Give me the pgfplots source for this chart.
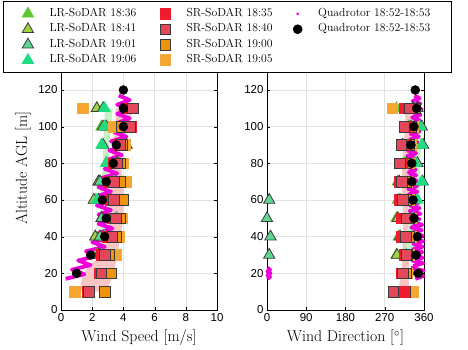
\documentclass[border=0pt]{standalone}
\usepackage{fontspec}
\usepackage{pgfplots}
\usepackage{pgfplotstable}
\pgfplotsset{compat=1.18}
\newfontfamily\tickfont{Liberation Sans}

\definecolor{lrA}{HTML}{5CC82E}
\definecolor{lrB}{HTML}{A3D13F}
\definecolor{lrC}{HTML}{5ED68F}
\definecolor{lrD}{HTML}{1FDC82}
\definecolor{srA}{HTML}{EE1C2E}
\definecolor{srB}{HTML}{E5475A}
\definecolor{srC}{HTML}{EE940C}
\definecolor{srD}{HTML}{F6A530}
\definecolor{edge}{HTML}{3A3A3A}
\definecolor{quad}{HTML}{F000D8}
\definecolor{bandR}{HTML}{F9C6C6}
\definecolor{bandG}{HTML}{C4F2C4}

\pgfplotsset{
  lr1/.style={only marks,mark=triangle*,mark size=6.5pt,mark options={fill=lrA,draw=lrA,line width=0.8pt}},
  lr2/.style={only marks,mark=triangle*,mark size=6.5pt,mark options={fill=lrB,draw=edge,line width=0.8pt}},
  lr3/.style={only marks,mark=triangle*,mark size=6.5pt,mark options={fill=lrC,draw=edge,line width=0.8pt}},
  lr4/.style={only marks,mark=triangle*,mark size=6.5pt,mark options={fill=lrD,draw=lrD,line width=0.8pt}},
  sr1/.style={only marks,mark=square*,mark size=5.3pt,mark options={fill=srA,draw=srA,line width=0.8pt}},
  sr2/.style={only marks,mark=square*,mark size=5.3pt,mark options={fill=srB,draw=edge,line width=0.8pt}},
  sr3/.style={only marks,mark=square*,mark size=5.3pt,mark options={fill=srC,draw=edge,line width=0.8pt}},
  sr4/.style={only marks,mark=square*,mark size=5.3pt,mark options={fill=srD,draw=srC!80,line width=0.8pt}},
  qdot/.style={only marks,mark=*,mark size=4.5pt,mark options={fill=black,draw=black}},
  qline/.style={quad,line width=3.8pt,line join=round,no marks},
  panel/.style={
    scale only axis,width=156pt,height=256.67pt,
    ymin=0,ymax=140,ytick={0,20,...,120},
    grid=major,grid style={gray!22,line width=0.5pt},
    axis line style={black,line width=0.8pt},
    tick align=inside,major tick length=3pt,tick style={black},
    ticklabel style={font=\fontsize{11.5}{13}\tickfont},
    /pgf/number format/assume math mode=true,
    label style={font=\fontsize{15.8}{18}\selectfont},
    xlabel style={at={(axis description cs:0.5,-0.109)},anchor=center},
    clip=false,axis background/.style={fill=white}},
}

% altitude, SR-SoDAR (18:35 18:40 19:00 19:05), LR-SoDAR (18:36 18:41 19:01 19:06), quadrotor mean
\pgfplotstableread{
alt sr1 sr2 sr3 sr4 lr1 lr2 lr3 lr4 q
10  1.7 1.8 2.8 0.9 nan nan nan nan nan
20  2.5 2.6 3.2 3.0 nan nan nan nan 1.0
30  2.6 2.8 3.1 3.5 2.3 2.4 2.5 2.6 1.9
40  3.0 3.3 3.5 3.7 2.2 2.2 2.5 2.8 2.8
50  3.3 3.5 3.8 3.9 3.5 2.6 2.6 3.6 2.9
60  3.2 3.4 4.0 4.0 2.2 2.1 2.4 2.3 2.65
70  3.1 3.4 3.8 4.2 2.5 2.4 2.5 3.4 2.9
80  3.4 3.6 3.8 4.0 3.7 3.6 2.9 2.9 3.35
90  3.7 3.8 3.9 4.1 4.2 4.2 2.7 2.6 3.55
100 4.5 4.4 3.9 3.4 2.6 2.7 2.9 2.8 4.0
110 4.4 4.6 4.2 1.4 2.3 2.3 2.7 2.8 4.0
120 nan nan nan nan nan nan nan nan 4.0
}\speed

\pgfplotstableread{
alt sr1 sr2 sr3 sr4 lr1 lr2 lr3 lr4 q
10  315 290 316 334 nan nan nan nan nan
20  310 312 318 322 nan nan nan nan 347
30  315 320 322 325 297 298 5   320 342
40  310 318 325 330 302 305 8   335 345
50  310 320 325 330 297 300 0   335 337
60  305 312 320 325 300 305 5   345 335
70  305 310 320 322 300 303 357 355 332
80  310 305 318 325 315 320 345 340 332
90  315 308 325 330 312 310 358 355 330
100 320 315 330 335 325 330 355 350 337
110 316 328 340 288 297 335 345 340 343
120 nan nan nan nan nan nan nan nan 340
}\direction

\begin{document}
\begin{tikzpicture}
\path[use as bounding box] (0,0) rectangle (468pt,350pt);

% ---------- wind speed ----------
\begin{axis}[panel,at={(61pt,40pt)},anchor=south west,
  xmin=0,xmax=10,xtick={0,2,...,10},
  xlabel={Wind Speed [m/s]},ylabel={Altitude AGL [m]},
  ylabel style={at={(axis description cs:-0.244,0.553)},anchor=center}]
\addplot[fill=bandR,draw=none,forget plot] coordinates {
 (1.2,10) (1.4,20) (2.5,30) (3.0,40) (3.1,50) (3.1,60) (3.2,70) (3.3,80) (3.3,90) (3.5,100) (3.5,110)
 (4.6,110) (4.4,100) (3.8,90) (3.8,80) (4.0,70) (4.0,60) (4.0,50) (3.8,40) (3.6,30) (3.4,20) (2.9,10)} -- cycle;
\addplot[fill=bandG,draw=none,forget plot] coordinates {
 (2.4,30) (2.5,40) (2.6,50) (2.5,60) (2.6,70) (2.7,80) (2.7,90) (2.8,100) (2.8,110)
 (3.3,110) (3.2,100) (3.1,90) (3.1,80) (3.0,70) (2.9,60) (3.0,50) (2.9,40) (2.7,30)} -- cycle;
\addplot[lr1,forget plot] table[x=lr1,y=alt]{\speed};
\addplot[lr2,forget plot] table[x=lr2,y=alt]{\speed};
\addplot[lr3,forget plot] table[x=lr3,y=alt]{\speed};
\addplot[lr4,forget plot] table[x=lr4,y=alt]{\speed};
\addplot[sr4,forget plot] table[x=sr4,y=alt]{\speed};
\addplot[sr3,forget plot] table[x=sr3,y=alt]{\speed};
\addplot[sr1,forget plot] table[x=sr1,y=alt]{\speed};
\addplot[sr2,forget plot] table[x=sr2,y=alt]{\speed};
\addplot[qline,forget plot] coordinates {
 (0.3,17) (1.5,19.5) (0.7,22) (1.9,24.5) (1.1,27) (2.3,29.5) (1.6,32) (2.8,34.5) (2.0,37) (3.2,39.5)
 (2.4,42) (3.3,44.5) (2.4,47) (3.3,49.5) (2.4,52) (3.2,54.5) (2.3,57) (3.1,59.5) (2.3,62) (3.2,64.5)
 (2.4,67) (3.3,69.5) (2.6,72) (3.6,74.5) (2.8,77) (3.8,79.5) (3.0,82) (3.9,84.5) (3.1,87) (4.0,89.5)
 (3.2,92) (4.2,94.5) (3.4,97) (4.4,99.5) (3.6,102) (4.4,104.5) (3.6,107) (4.5,109.5) (3.6,112) (4.4,114.5) (3.7,117)};
\addplot[qdot,forget plot] table[x=q,y=alt]{\speed};
\end{axis}

% ---------- wind direction ----------
\begin{axis}[panel,at={(267pt,40pt)},anchor=south west,width=157pt,
  xmin=0,xmax=360,xtick={0,90,...,360},
  xlabel={Wind Direction [$^\circ$]},
  legend columns=3,
  legend style={at={(-1.6815,1.2039)},anchor=north west,draw=black,line width=0.6pt,fill=white,
    font=\fontsize{11.7}{13}\selectfont,inner xsep=19pt,inner ysep=6pt,
    nodes={inner ysep=0.5pt,text height=8pt,text depth=2.5pt},row sep=3.2pt,
    /tikz/every odd column/.style={column sep=14pt},
    /tikz/column 2/.style={column sep=21.5pt},
    /tikz/column 4/.style={column sep=14.5pt}},
  legend cell align=left]
\addplot[fill=bandR,draw=none,forget plot] coordinates {
 (300,10) (308,20) (310,30) (312,40) (312,50) (310,60) (310,70) (310,80) (312,90) (318,100) (316,110)
 (336,110) (334,100) (330,90) (328,80) (326,70) (326,60) (328,50) (328,40) (326,30) (326,20) (325,10)} -- cycle;
\addplot[fill=bandG,draw=none,forget plot] coordinates {
 (318,30) (320,40) (325,50) (325,60) (325,70) (328,80) (330,90) (332,100) (330,110)
 (345,110) (352,100) (355,90) (350,80) (352,70) (350,60) (348,50) (345,40) (335,30)} -- cycle;
\addplot[lr1,forget plot] table[x=lr1,y=alt]{\direction};
\addplot[lr2,forget plot] table[x=lr2,y=alt]{\direction};
\addplot[lr3,forget plot] table[x=lr3,y=alt]{\direction};
\addplot[lr4,forget plot] table[x=lr4,y=alt]{\direction};
\addplot[sr4,forget plot] table[x=sr4,y=alt]{\direction};
\addplot[sr3,forget plot] table[x=sr3,y=alt]{\direction};
\addplot[sr1,forget plot] table[x=sr1,y=alt]{\direction};
\addplot[sr2,forget plot] table[x=sr2,y=alt]{\direction};
\addplot[qline,forget plot] coordinates {
 (335,24) (358,25.5) (333,27) (357,28.5) (336,30) (356,31.5) (334,33) (357,34.5) (336,36) (358,37.5)
 (337,39) (357,40.5) (333,42) (355,43.5) (331,45) (356,46.5) (330,48) (350,49.5) (328,51) (352,52.5)
 (327,54) (350,55.5) (328,57) (348,58.5) (326,60) (346,61.5) (325,63) (345,64.5) (324,66) (344,67.5)
 (325,69) (343,70.5) (324,72) (342,73.5) (325,75) (341,76.5) (324,78) (342,79.5) (323,81) (340,82.5)
 (322,84) (342,85.5) (323,87) (340,88.5) (322,90) (345,91.5) (328,93) (348,94.5) (330,96) (350,97.5)
 (332,99) (352,100.5) (334,102) (350,103.5) (333,105) (352,106.5) (335,108) (355,109.5) (336,111)
 (352,112.5) (334,114) (350,115.5) (338,117)};
\addplot[qline,forget plot] coordinates {
 (340,17) (358,18.5) (335,20) (359,21.5) (330,23)};
\addplot[qline,forget plot] coordinates {(1,17) (7,18) (1,19) (8,20) (1,21) (7,22) (1,23)};
\addplot[qline,forget plot] coordinates {(1,29) (8,30) (1,31)};
\addplot[qline,forget plot] coordinates {(1,39.5) (4,40.5)};
\addplot[qdot,forget plot] table[x=q,y=alt]{\direction};

\addlegendimage{lr1}\addlegendentry{LR-SoDAR 18:36}
\addlegendimage{sr1}\addlegendentry{SR-SoDAR 18:35}
\addlegendimage{only marks,mark=*,mark size=1pt,mark options={fill=quad,draw=quad}}\addlegendentry{Quadrotor 18:52-18:53}
\addlegendimage{lr2}\addlegendentry{LR-SoDAR 18:41}
\addlegendimage{sr2}\addlegendentry{SR-SoDAR 18:40}
\addlegendimage{qdot}\addlegendentry{Quadrotor 18:52-18:53}
\addlegendimage{lr3}\addlegendentry{LR-SoDAR 19:01}
\addlegendimage{sr3}\addlegendentry{SR-SoDAR 19:00}
\addlegendimage{empty legend}\addlegendentry{}
\addlegendimage{lr4}\addlegendentry{LR-SoDAR 19:06}
\addlegendimage{sr4}\addlegendentry{SR-SoDAR 19:05}
\end{axis}
\end{tikzpicture}
\end{document}
